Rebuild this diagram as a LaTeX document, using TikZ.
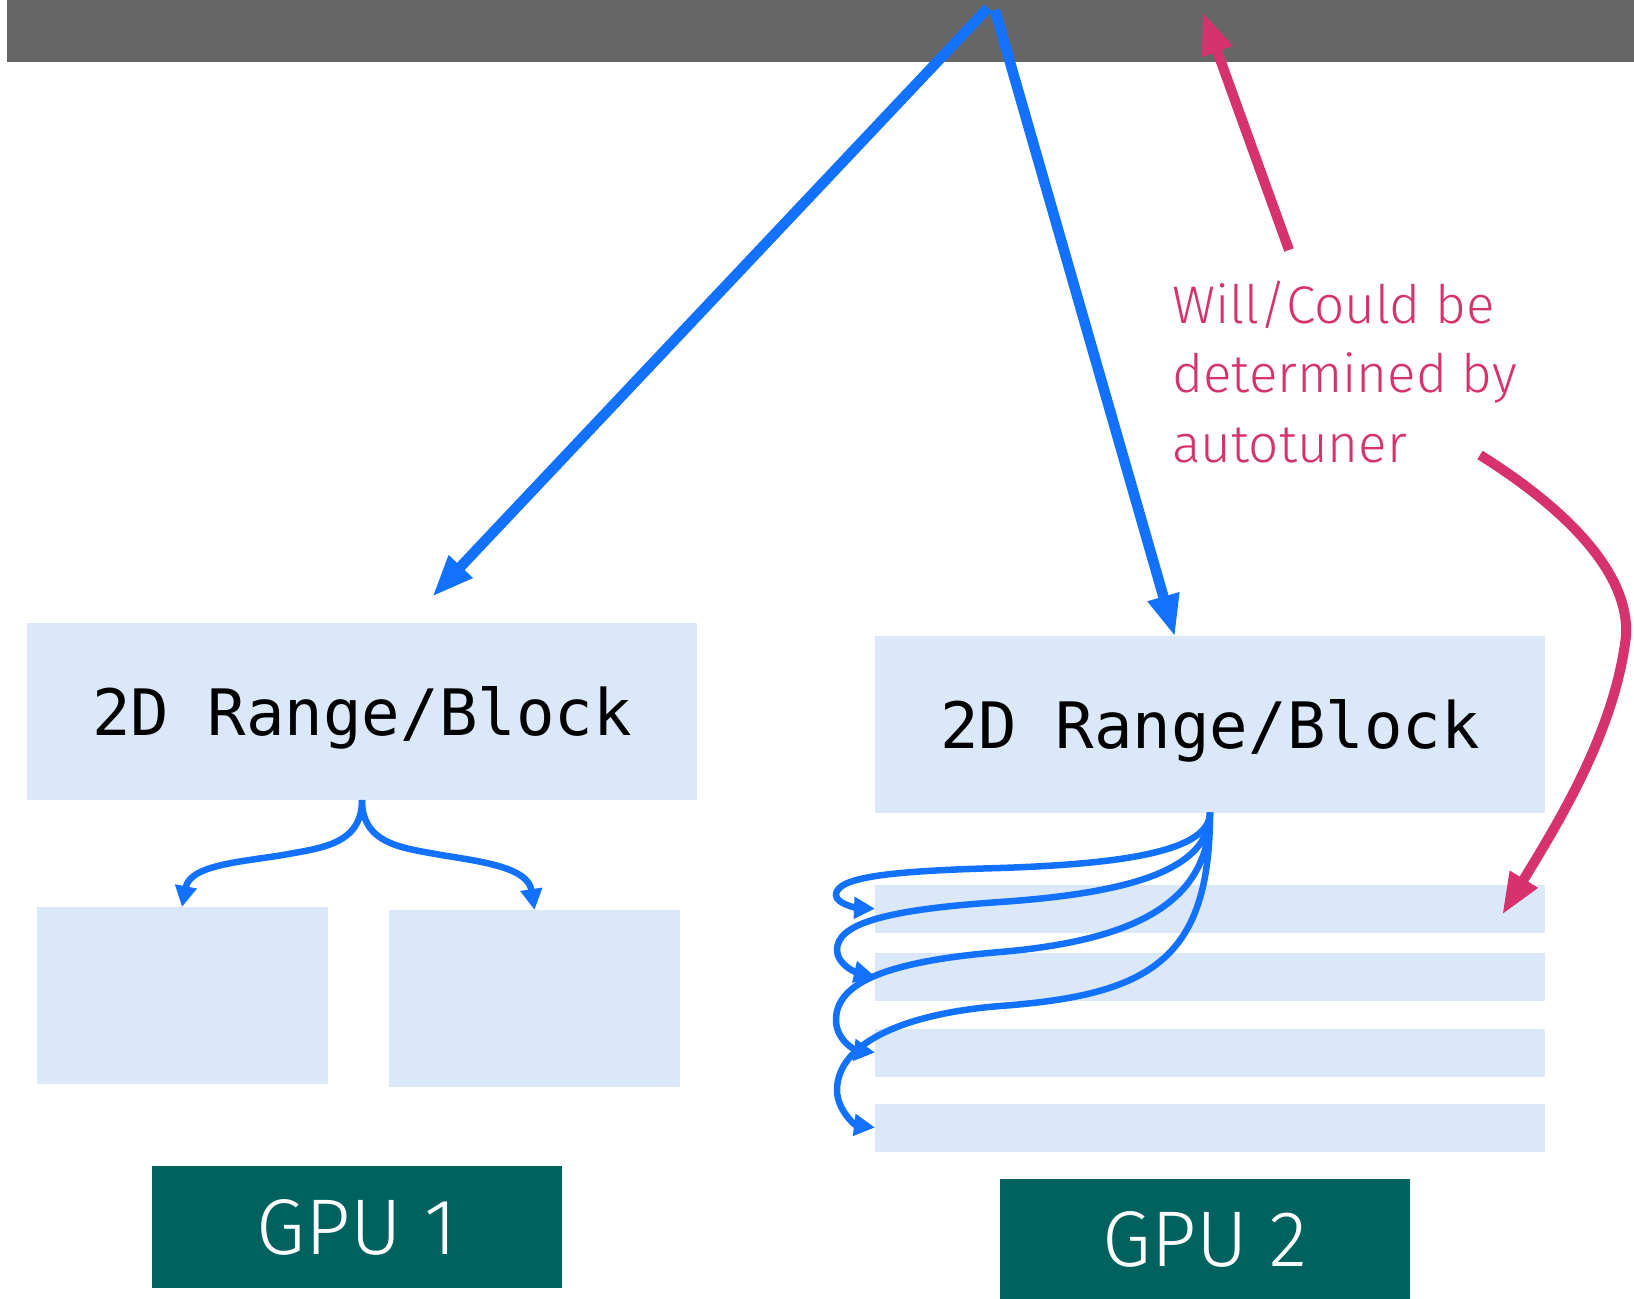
\documentclass[tikz,border=0pt]{standalone}
\usepackage{fontspec}
\setmainfont{Fira Sans Light}
\newfontfamily\codefont{DejaVu Sans Mono}
\usetikzlibrary{arrows.meta}

\definecolor{membar}{HTML}{666666}
\definecolor{blockfill}{HTML}{DAE8FA}
\definecolor{gpufill}{HTML}{00625F}
\definecolor{flowblue}{HTML}{1272FF}
\definecolor{notepink}{HTML}{D6336E}

\tikzset{
  area/.style={fill=blockfill, inner sep=0pt, outer sep=0pt},
  rangebox/.style={area, minimum width=670pt, minimum height=177pt,
    text depth=0pt, font=\codefont\fontsize{64}{70}\selectfont},
  subbox/.style={area, minimum width=291pt, minimum height=177pt},
  strip/.style={area, minimum width=670pt, minimum height=48pt},
  gpubox/.style={fill=gpufill, text=white, inner sep=0pt, outer sep=0pt,
    minimum width=410pt, font=\fontsize{79}{80}\selectfont},
  mainflow/.style={draw=flowblue, line width=10.5pt,
    -{Triangle[length=42pt,width=30pt]}},
  splitflow/.style={draw=flowblue, line width=6.5pt,
    -{Triangle[length=21pt,width=21pt]}},
  notearrow/.style={draw=notepink, line width=10pt,
    -{Triangle[length=42pt,width=30pt]}},
}

\begin{document}
\begin{tikzpicture}[x=1pt, y=-1pt]
\useasboundingbox (0,0) rectangle (1634,1299);

% memory bar across the top
\node[fill=membar, inner sep=0pt, minimum width=1627pt, minimum height=62pt]
  (mem) at (820.5,31) {};

% the two 2D ranges
\node[rangebox] (rangeA) at (362,711.5) {2D Range/Block};
\node[rangebox] (rangeB) at (1210,724) {2D Range/Block};

% GPU 1: two square sub-blocks
\node[subbox] (subA1) at (182,995.5) {};
\node[subbox] (subA2) at (534.5,998.5) {};

% GPU 2: four thin strips
\node[strip] (stripB1) at (1210,908.7) {};
\node[strip] (stripB2) at (1210,976.5) {};
\node[strip] (stripB3) at (1210,1052.5) {};
\node[strip] (stripB4) at (1210,1127.5) {};

% device labels
\node[gpubox, minimum height=122pt] (gpu1) at (357,1227) {GPU 1};
\node[gpubox, minimum height=120pt] (gpu2) at (1205,1239) {GPU 2};

% annotation (anchored on the baseline of its last line)
\node[text=notepink, font=\fontsize{53}{69.5}\selectfont, align=left,
  anchor=base west, inner sep=0pt] (note) at (1172,462)
  {Will/Could be\\determined by\\autotuner};

% end points of the free-standing connectors
\coordinate (apexL) at (988,8);
\coordinate (apexR) at (995,10);
\coordinate (tipA) at (432,597);
\coordinate (tipB) at (1175,637);
\coordinate (noteUpStart) at (1289,250);
\coordinate (noteUpTip) at (1203,12);
\coordinate (noteDownStart) at (1480,455);
\coordinate (noteDownTip) at (1502,915);

% distribution from memory to the ranges
\draw[mainflow] (apexL) -- (tipA);
\draw[mainflow] (apexR) -- (tipB);

% GPU 1 split
\draw[splitflow] (rangeA.south) .. controls (362,845) and (320,848) .. (283,855)
  .. controls (240,862) and (190,865) .. (subA1.north);
\draw[splitflow] (rangeA.south) .. controls (362,845) and (404,848) .. (441,855)
  .. controls (485,862) and (528,868) .. (subA2.north);

% GPU 2 split into strips
\draw[splitflow] (rangeB.south) .. controls (1210,852) and (1120,864) .. (1000,868)
  .. controls (890,871) and (836,877) .. (836,895)
  .. controls (836,904) and (858,908) .. (stripB1.west);
\draw[splitflow] (rangeB.south) .. controls (1210,870) and (1130,893) .. (1000,902)
  .. controls (880,910) and (837,925) .. (837,950)
  .. controls (837,964) and (855,972) .. (stripB2.west);
\draw[splitflow] (rangeB.south) .. controls (1210,900) and (1140,940) .. (1000,952)
  .. controls (880,962) and (836,985) .. (836,1020)
  .. controls (836,1040) and (855,1050) .. (stripB3.west);
\draw[splitflow] (rangeB.south) .. controls (1210,960) and (1150,995) .. (1000,1006)
  .. controls (900,1014) and (837,1045) .. (837,1090)
  .. controls (837,1110) and (855,1125) .. (stripB4.west);

% annotation arrows
\draw[notearrow] (noteUpStart) -- (noteUpTip);
\draw[notearrow] (noteDownStart) .. controls (1560,505) and (1630,570) .. (1626,636)
  .. controls (1615,730) and (1560,820) .. (noteDownTip);
\end{tikzpicture}
\end{document}
